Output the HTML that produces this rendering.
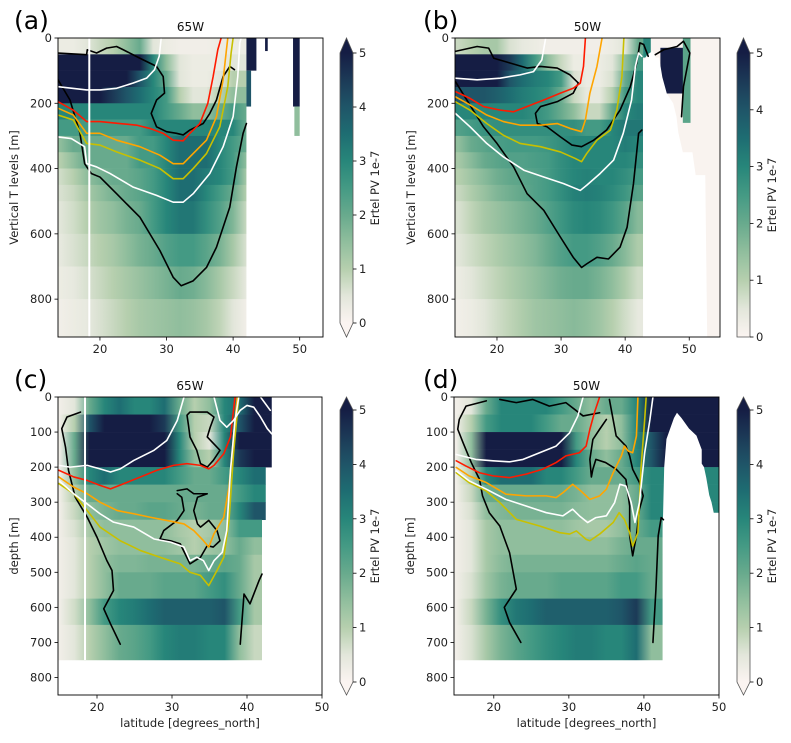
<!DOCTYPE html>
<html><head><meta charset="utf-8">
<style>
body{margin:0;background:#fff;}
svg{display:block;font-family:"DejaVu Sans","Liberation Sans",sans-serif;}
</style></head>
<body>
<svg id="fig" width="791" height="743" viewBox="0 0 791 743" xmlns="http://www.w3.org/2000/svg"></svg>
<script>
// ---------- DATA ----------
const abDepthEdges=[0,50,100,150,200,250,300,350,400,450,500,600,700,800,920];
const cdDepthEdges=[0,50,100,150,200,250,300,350,400,450,500,575,650,750];
const aLats=[14,16,18,20,22,24,26,28,30,32,34,36,38,40,42];
const aPV=[
[0.3,0.3,0.5,0.8,1.0,1.5,2,0.5,0.3,0.2,0.2,0.2,0.3,0.3,0.3],
[6,6,6,6,6,6,5,3,1.5,0.5,0.3,0.3,0.3,0.5,0.5],
[6,6,6,6,6,5,4,3,2,0.5,0.3,0.3,0.5,1,1],
[5,5,5,5,4.5,4,3.5,3,2.5,1,0.5,0.5,1,1.5,1.5],
[3,3,3,3,3,3,3,3,2.5,2,1.5,1.5,2,2.5,2],
[2.5,2.5,2.5,2.5,2.5,2.5,2.5,3,3,3,3,3,3,3,2],
[1.5,2,2,2,2,2,2.5,2.5,3,3.5,3.5,3.5,3,2.5,2],
[1,1.5,2,2,2,2,2.5,2.5,3,3.5,3.5,3.5,3,2.5,1.5],
[0.7,1,1.5,1.8,2,2,2.2,2.5,3,3.5,3.5,3.2,3,2.5,1.2],
[0.6,0.8,1.2,1.5,1.8,2,2.2,2.5,3,3.5,3.5,3,2.5,2,1],
[0.5,0.7,1,1.3,1.5,1.8,2,2.5,3,3.3,3.3,2.8,2.3,1.7,0.8],
[0.4,0.6,0.8,1,1.2,1.5,1.8,2,2.3,2.5,2.5,2.2,1.8,1.2,0.6],
[0.3,0.4,0.6,0.8,1,1.2,1.4,1.6,1.8,2,1.9,1.6,1.2,0.8,0.4],
[0.2,0.3,0.4,0.6,0.8,1,1.2,1.3,1.4,1.5,1.4,1.2,0.9,0.5,0.2]];
const aEast=[42,42,42,42,42,42,42,42,42,42,42,42,42,42];
const aPatches=[[42,43.5,0,100,6],[42,42.7,100,210,4],[44.8,45.2,0,40,6],[49,50,0,210,6],[49.2,50,210,300,1.5]];
const aBlack1=[[13.7,46],[18,51],[18.1,36],[19.5,46],[21,31],[22.5,26],[23.5,36],[26,62],[28.5,87],[29.5,118],[29.7,169],[28.5,190],[27.7,231],[28.5,272],[30,287],[31.5,292],[32.5,297],[33.5,282],[35.5,262],[36.5,231],[37.5,190],[38.5,118],[39.5,87],[40.2,97]];
const aBlack2=[[13.7,128],[15.5,190],[17,292],[17.7,385],[18.7,415],[20,426],[22.5,477],[26,549],[29,651],[31,733],[32.2,759],[34,744],[36,703],[37.5,641],[39.5,518],[40.5,395],[41.5,292],[42,262]];
const aRed=[[13.7,195],[16,221],[18,256],[20,256],[23,262],[25.5,267],[27.5,277],[29.5,292],[31,313],[32.5,315],[33.5,292],[35,262],[36.2,200],[37,118],[37.7,36],[38.2,0]];
const aOrange=[[13.7,215],[16,236],[18,292],[20,292],[22.5,313],[26,333],[29,359],[31,385],[32.5,385],[34,354],[36,313],[37.5,241],[38.5,128],[39,36],[39.2,0]];
const aYellow=[[13.7,236],[16,251],[18,323],[20,328],[22.5,349],[26,374],[29,400],[31,431],[32.5,431],[34,400],[36,354],[38,272],[39.2,149],[39.7,46],[40,0]];
const aWhite1=[[13.7,149],[18,159],[20,159],[22.5,154],[25,138],[27,123],[28.2,97],[28.9,56],[29.2,0]];
const aWhite2=[[13.7,303],[15.7,308],[17.7,333],[18,385],[19.5,395],[21.5,415],[25,457],[28.5,482],[31,503],[32.5,503],[34,477],[36.5,415],[38.5,333],[40,241],[40.7,118],[41,15],[41.2,0]];

const bLats=[14,16,18,20,22,24,26,28,30,32,34,36,38,40,42];
const bPV=[
[0.8,1,1.2,1.2,0.6,0.4,0.3,0.2,0.2,0.2,0.2,0.2,0.3,0.5,2],
[6,6,6,6,4.5,3.5,2.5,1.5,0.8,0.3,0.3,0.3,0.5,1.5,2.5],
[6,6,5.5,5,4,3.5,3.2,3,2.5,0.6,0.3,0.3,0.6,2,3],
[4,4,4,3.8,3.5,3.2,3,2.8,2,0.8,0.4,0.4,1,2.5,3],
[3,3,3,3,3,3,2.8,2.5,2,1.5,0.8,0.8,2,3,3.2],
[2.3,2.5,2.7,2.8,2.8,2.8,2.8,2.8,2.8,2.8,2.5,2.5,3,3.3,3.3],
[1.5,2,2.2,2.4,2.5,2.5,2.5,2.6,2.8,3,3,3,3,3.2,3],
[1.2,1.6,2,2.2,2.3,2.3,2.4,2.5,2.8,3,3,3,3,3,2.8],
[1,1.3,1.6,1.9,2.1,2.2,2.3,2.5,2.8,3,3.1,3,3,2.8,2.5],
[0.8,1.1,1.4,1.7,1.9,2.1,2.3,2.5,2.8,3.1,3.2,3.1,2.9,2.6,2.2],
[0.6,0.9,1.2,1.4,1.6,1.8,2,2.3,2.6,2.9,3,2.9,2.6,2.2,1.6],
[0.5,0.7,0.9,1.1,1.3,1.5,1.7,2,2.3,2.5,2.5,2.3,2,1.6,1.1],
[0.3,0.5,0.7,0.9,1.1,1.3,1.5,1.7,1.9,2,2,1.8,1.5,1.1,0.7],
[0.2,0.3,0.5,0.7,0.9,1.1,1.3,1.4,1.5,1.6,1.5,1.3,1,0.7,0.4]];
const bEast=[42.8,42.8,42.8,42.8,42.8,42.8,42.8,42.8,42.8,42.8,42.8,42.8,42.8,42.8];
const bPatches=[[42.8,54.8,0,916,0.05],[42.8,44,0,60,3],[45.5,49.5,30,170,5.5],[49,50.2,0,260,2.2]];
const bMask=[[42.8,916],[42.8,70],[43.5,50],[44.3,40],[44.8,60],[45.3,60],[45.8,120],[46.5,170],[47.5,200],[48,240],[48.3,290],[49,350],[50.5,350],[51,420],[52.5,420],[52.8,916]];
const bBlack1=[[13.5,41],[16.9,26],[18.7,31],[19.5,62],[22.1,77],[24.7,92],[26.8,87],[29.4,92],[31.4,113],[32.7,138],[31.9,169],[29.4,195],[26.8,210],[26,231],[26.3,262],[27.8,272],[29.9,303],[31.7,328],[33.2,333],[35.1,313],[37.1,282],[39.2,221],[40.8,149],[41.8,77],[42.1,41],[42.3,15],[42.9,20],[43.6,56]];
const bBlack2=[[13.5,133],[15.3,190],[17.9,272],[20,323],[22.6,395],[24.7,477],[27.3,528],[29.9,610],[31.9,672],[33.2,703],[34,692],[35.6,672],[37.4,677],[39.2,641],[40.3,580],[41.3,446],[42.1,292],[42.6,282]];
const bBlack3=[[44.7,51],[46,36],[48.1,26],[49.1,10],[50.1,46],[49.1,149],[48.8,241]];
const bRed=[[13.5,164],[15.8,185],[17.9,210],[20.5,221],[22.6,226],[24.7,210],[27.3,190],[29.9,169],[31.9,154],[33,138],[33.5,87],[33.8,0]];
const bOrange=[[13.5,180],[15.8,205],[18.4,236],[21,256],[23.6,267],[26.8,267],[29.4,262],[31.4,277],[33.2,287],[33.8,251],[34.5,169],[35.6,87],[36.4,0]];
const bYellow=[[13.5,195],[15.8,221],[18.4,262],[21,298],[23.6,323],[26.8,333],[29.9,349],[32.2,369],[33.2,379],[34,354],[35.6,313],[37.7,282],[38.7,221],[39.5,118],[39.8,0]];
const bWhite1=[[13.5,123],[16.9,128],[20.5,123],[23.6,113],[25.7,103],[27,67],[27.6,0]];
const bWhite2=[[13.5,231],[15.8,272],[18.4,323],[21,364],[24.2,405],[27.3,426],[30.4,446],[33,467],[34,451],[36.1,415],[38.2,374],[39.7,292],[41,190],[41.6,87],[42.1,46],[42.6,56]];

const cLats=[15,17,19,21,23,25,27,29,31,33,35,37,39,41,43];
const cPV=[
[0.2,0.5,2,3,3.5,3,3,3.5,2,1,1.5,3,3.5,5,6],
[0.2,1,4,5,5,5,5,4.5,2.5,1,0.8,3,4,6,6],
[0.2,2,6,6,6,6,6,6,3,1,0.5,3,5,6,6],
[0.2,2,6,6,6,6,6,5,3,1.5,1,3,4.5,6,6],
[0.2,1.5,3,3.5,3,3,3,3,2.5,2,2,2.5,3,3.5],
[0.2,1,2,2,2,2,2,2,2,2,2,2,2.5,3],
[0.2,0.8,1.5,1.8,2,2,2.2,2.2,2,1.8,2,2,3,4],
[0.2,0.6,1.2,1.5,1.5,1.5,1.5,1.5,1.2,1,1.2,1.5,2.5,2.5],
[0.2,0.5,1,1.3,1.5,1.5,1.5,1.5,1.3,1,1.3,1.5,2,1.5],
[0.2,0.5,1,1.5,1.7,1.7,1.8,1.8,1.8,1.8,2,2.2,2,1.2],
[0.2,0.5,1,1.5,2,2,2,2.2,2.2,2.2,2.5,2.8,2,1.2],
[0.2,0.7,1.5,2.5,3,3.2,3.5,3.8,3.8,3.8,3.8,4,2.5,1.2],
[0.2,0.5,1,1.5,2,2.2,2.5,3,3.2,3.2,3,3,1.5,0.8]];
const cEast=[43.3,43.3,43.3,43.3,42.5,42.5,42.5,42,42,42,42,42,42];
const cPatches=[];
const cBlack1=[[17.8,43],[16,57],[15.3,90],[15.8,143],[16.2,209],[17.1,286],[18.7,343],[20,400],[21.3,466],[22,495],[22.2,552],[20.9,604],[21.8,647],[23.1,705]];
const cBlack2=[[39.1,705],[39.6,562],[40.4,590],[41.6,524],[42,505]];
const cBlack3=[[32,52],[32.4,43],[34.7,43],[35.6,57],[35.1,86],[34.7,114],[36.4,152],[35.5,181],[34.7,200],[33.8,190],[33.3,152],[32.4,114],[32.2,81],[32,52]];
const cBlack4=[[30.7,267],[32,262],[32.9,276],[34.7,276],[33.4,286],[32.9,324],[33.4,362],[33.8,371],[34.9,352],[36,381],[36.4,410],[35.5,428],[34.7,424],[33.8,457],[32.4,476],[31.1,419],[29.8,410],[28.4,405],[28.9,381],[30.7,352],[31.6,324],[31.3,286],[30.7,276]];
const cRed=[[14.9,209],[16.9,228],[18.7,238],[20.4,252],[21.8,262],[23.6,247],[25.8,228],[28,209],[30.2,195],[32,190],[33.8,195],[34.9,205],[35.6,195],[36.9,162],[37.8,114],[38.2,38],[38.4,0]];
const cOrange=[[14.9,228],[16.9,257],[18.7,276],[20.4,300],[22.7,324],[24.9,333],[27.1,343],[29.3,352],[31.6,362],[32.9,381],[34.2,410],[34.9,428],[35.6,390],[36.9,343],[37.6,257],[38.2,114],[38.7,0]];
const cYellow=[[14.9,247],[16.9,276],[18.7,324],[20.4,371],[23.1,410],[25.8,438],[28.4,457],[31.1,476],[32.4,500],[33.8,509],[34.9,538],[36,495],[36.9,457],[37.6,352],[38.2,162],[38.9,0]];
const cWhite1=[[14.9,195],[16.4,200],[18.7,195],[20.4,205],[21.8,214],[23.1,205],[24.9,181],[27.6,152],[29.3,124],[30.7,67],[31.6,0]];
const cWhite2=[[14.9,238],[16.9,276],[18.7,305],[20.4,333],[22.2,357],[24.9,371],[27.6,405],[29.8,414],[31.6,428],[32.4,467],[33.3,457],[34.2,467],[34.9,495],[35.6,467],[36.7,443],[37.3,381],[37.8,209],[38.4,67],[38.9,0]];
const cWhite3=[[35.6,0],[36.4,67],[37.3,86],[38.2,67],[39.1,38],[40,24],[40.9,29],[41.8,57],[42.7,90],[43.3,105]];
const cWhite4=[[41.8,0],[43.1,38]];

const dLats=[15,17,19,21,23,25,27,29,31,33,35,37,39,41,43,45,47,49];
const dPV=[
[0.2,0.5,2,3,3,3,3,2.5,2,1.5,2,2,3,5,6,6,6,6],
[0.2,1,2.5,3,3,3,2.5,2,2,1.5,1,1.5,3,5,6,6,6,6],
[0.2,1.5,6,6,6,6,6,6,2.5,1.5,1,1.5,3,4,6,6,6,6],
[0.2,1.5,6,6,6,6,6,5,3,2,1.5,2,3,4,5,6,6,6],
[0.2,1,3,3.5,3.5,3.5,3,3,2.5,2,2,2,2.5,3,3,3,3,3],
[0.2,0.8,2,2,2,2,2,2,1.8,1.5,1.5,1.5,2,3,3,3,3,3],
[0.2,0.6,1.5,1.7,1.8,1.8,1.8,1.8,1.6,1.5,1.5,1.5,2,3,3,3,3,3],
[0.2,0.5,1.2,1.5,1.5,1.5,1.5,1.5,1.3,1.2,1.2,1.5,2,2.5],
[0.2,0.5,1.2,1.5,1.5,1.5,1.5,1.5,1.5,1.5,1.5,1.8,2,2],
[0.2,0.5,1.2,1.6,1.8,1.8,1.8,1.8,1.8,1.8,1.8,2,2.2,2],
[0.2,0.6,1.3,1.8,2,2,2,2.2,2.2,2.2,2.2,2.5,2.5,2],
[0.2,0.8,1.8,2.8,3.3,3.5,3.8,3.8,3.8,3.8,3.8,4,4.5,2.5],
[0.2,0.6,1.2,1.8,2.2,2.5,2.8,3,3.2,3.2,3,3,3.5,1.5]];
const dEast=[50,50,50,50,50,50,50,42.5,42.5,42.5,42.5,42.5,42.5];
const dPatches=[];
const dMask=[[42.5,850],[42.5,380],[42.7,200],[43,120],[43.5,90],[44,60],[44.4,45],[45,60],[46,90],[47,110],[47.7,150],[47.7,190],[48,200],[48.3,230],[48.7,280],[49,300],[49.3,330],[50,330],[50,850]];
const dBlack1=[[19,11],[16.3,26],[15.4,64],[15.2,92],[15.9,130],[17,187],[18.1,235],[18.5,282],[19.4,330],[20.8,368],[22.1,444],[23,548],[21.4,600],[22.1,643],[23.6,700]];
const dBlack2=[[41.2,700],[41.6,548],[41.9,396],[42.3,344],[42.6,350]];
const dBlack3=[[35.4,7],[36.3,111],[37.6,140],[38.1,168],[38.5,206],[39.4,244],[39.9,282],[39.4,320],[39,396],[38.5,453],[38.1,396],[38.1,311],[37.6,235],[36.3,206],[34.9,187],[33.6,178],[33.2,206],[33,228],[32.8,178],[33.2,121],[34.1,92],[35,64]];
const dBlack4=[[20.8,7],[23,16],[25.2,7],[27.4,26],[29.6,16],[31.9,54],[34.1,45]];
const dRed=[[15,182],[16.3,197],[18.1,216],[19.9,225],[22.1,230],[24.3,220],[26.5,206],[28.3,187],[29.6,168],[31.4,159],[32.3,140],[32.8,92],[33.4,45],[34.1,0]];
const dOrange=[[15,201],[16.7,225],[19,244],[21.6,277],[24.3,282],[27,282],[28.3,287],[29.2,273],[30.5,249],[31.6,268],[32.8,292],[34.1,282],[35,263],[35.9,216],[37,168],[37.4,140],[37.9,154],[38.5,159],[39,111],[39.2,0]];
const dYellow=[[15,216],[16.7,244],[19,268],[20.8,301],[23,349],[26.1,368],[28.8,387],[30.1,391],[31,382],[32.3,406],[32.8,410],[34.1,391],[35.9,358],[36.7,330],[37.4,349],[38.1,387],[38.5,425],[39.2,387],[39.6,206],[40.1,64],[40.3,0]];
const dWhite1=[[15,164],[17.6,178],[19.9,182],[22.1,185],[23.9,178],[26.1,159],[28.3,140],[30.1,102],[31.2,54],[31.9,0]];
const dWhite2=[[15,211],[16.7,239],[19,263],[21.6,292],[24.3,311],[27,330],[29.2,339],[30.5,320],[31.4,339],[32.5,358],[33.6,344],[35,339],[36.1,301],[36.8,249],[37.6,254],[38.3,301],[38.8,358],[39.4,301],[40.1,159],[40.8,64],[41.2,0]];

const cbTicks=[0,1,2,3,4,5];
const abXTicks=[20,30,40,50];
const abYTicks=[0,200,400,600,800];
const cdXTicks=[20,30,40,50];
const cdYTicks=[0,100,200,300,400,500,600,700,800];

// ---------- RENDER ----------
const NS='http://www.w3.org/2000/svg';
const svg=document.getElementById('fig');
const defs=document.createElementNS(NS,'defs');svg.appendChild(defs);
const cmapStops=[[0,'#fbf4f1'],[0.5,'#e2e6da'],[1,'#b6cfae'],[1.5,'#90be9d'],[2,'#68aa8d'],[2.5,'#449a84'],[3,'#27867a'],[3.5,'#1e6d72'],[4,'#1f5568'],[4.5,'#1c3a57'],[5,'#151d44']];
function hex2rgb(h){return [1,3,5].map(i=>parseInt(h.substr(i,2),16));}
function cmap(v){
  if(v<=0)return cmapStops[0][1];
  if(v>=5)return cmapStops[cmapStops.length-1][1];
  for(let i=1;i<cmapStops.length;i++){
    if(v<=cmapStops[i][0]){
      const [v0,c0]=cmapStops[i-1],[v1,c1]=cmapStops[i];
      const t=(v-v0)/(v1-v0),a=hex2rgb(c0),b=hex2rgb(c1);
      return 'rgb('+a.map((x,k)=>Math.round(x+(b[k]-x)*t)).join(',')+')';
    }
  }
}
function el(tag,attrs,parent){const e=document.createElementNS(NS,tag);for(const k in attrs)e.setAttribute(k,attrs[k]);(parent||svg).appendChild(e);return e;}
let gid=0;

function drawPanel(p){
  const g=el('g',{});
  
  
  const W=p.x1-p.x0,H=p.y1-p.y0;
  const sx=l=>p.x0+(l-p.lmin)/(p.lmax-p.lmin)*W;
  const sy=d=>p.y0+d/p.dmax*H;
  const cp=el('clipPath',{id:'clip'+p.id},defs);
  el('rect',{x:p.x0,y:p.y0,width:W,height:H},cp);
  const plot=el('g',{'clip-path':'url(#clip'+p.id+')'},g);
  
  
  p.pv.forEach((row,r)=>{
    const id='gr'+(gid++);
    const x0=sx(p.lats[0]-1),x1=sx(p.east[r]);
    const lg=el('linearGradient',{id:id,gradientUnits:'userSpaceOnUse',x1:x0,x2:x1,y1:0,y2:0},defs);
    row.forEach((v,i)=>{const off=(sx(p.lats[i])-x0)/(x1-x0);if(off<=1)el('stop',{offset:Math.max(0,off),'stop-color':cmap(v)},lg);});
    const y0=sy(p.depths[r]),y1=sy(Math.min(p.depths[r+1],p.dmax));
    const rc=el('rect',{x:x0,y:y0,width:x1-x0,height:y1-y0+0.3,fill:'url(#'+id+')'},plot);
    
    
  });
  (p.patches||[]).forEach(pt=>{
    const rc=el('rect',{x:sx(pt[0]),y:sy(pt[2]),width:sx(pt[1])-sx(pt[0]),height:sy(pt[3])-sy(pt[2]),fill:cmap(pt[4])},plot);
    
    
  });
  if(p.mask){
    const m=el('polygon',{points:p.mask.map(q=>sx(q[0])+','+sy(q[1])).join(' '),fill:'#fff'},plot);
    
    
  }
  p.lines.forEach(ln=>{
    const pl=el('polyline',{points:ln[0].map(q=>sx(q[0])+','+sy(q[1])).join(' '),fill:'none',stroke:ln[1],'stroke-width':1.6,'stroke-linejoin':'round','stroke-linecap':'round'},plot);
    
    
  });
  if(p.vline){
    const vl=el('line',{x1:sx(p.vline),x2:sx(p.vline),y1:p.y0,y2:sy(p.vlineEnd),stroke:'#fff','stroke-width':2},plot);
    
    
  }
  const fr=el('rect',{x:p.x0,y:p.y0,width:W,height:H,fill:'none',stroke:'#000','stroke-width':0.9},g);
  
  
  p.xt.forEach(t=>{
    const x=sx(t);
    el('line',{x1:x,x2:x,y1:p.y1,y2:p.y1+3.5,stroke:'#000','stroke-width':0.8},g);
    const tx=el('text',{x:x,y:p.y1+16,'font-size':11.5,'text-anchor':'middle',fill:'#222'},g);
    tx.textContent=t;
    
    
  });
  p.yt.forEach(t=>{
    const y=sy(t);
    el('line',{x1:p.x0-3.5,x2:p.x0,y1:y,y2:y,stroke:'#000','stroke-width':0.8},g);
    const tx=el('text',{x:p.x0-6,y:y+4,'font-size':11.5,'text-anchor':'end',fill:'#222'},g);
    tx.textContent=t;
    
    
  });
  const yl=el('text',{transform:'translate('+(p.x0-40)+','+(p.y0+H/2)+') rotate(-90)','font-size':11.5,'text-anchor':'middle',fill:'#222'},g);
  yl.textContent=p.ylabel;
  
  
  if(p.xlabel){
    const xl=el('text',{x:p.x0+W/2,y:p.y1+32,'font-size':11.5,'text-anchor':'middle',fill:'#222'},g);
    xl.textContent=p.xlabel;
    
    
  }
  const tt=el('text',{x:p.x0+W/2,y:p.y0-7,'font-size':12,'text-anchor':'middle',fill:'#111'},g);
  tt.textContent=p.title;
  
  
  const pl=el('text',{x:p.labelX,y:p.y0-9,'font-size':25,fill:'#000'},g);
  pl.textContent=p.label;
  
  
  const cb=el('g',{},g);
  
  
  const cid='cb'+p.id;
  const lg=el('linearGradient',{id:cid,x1:0,x2:0,y1:1,y2:0},defs);
  for(let v=0;v<=5.001;v+=0.25)el('stop',{offset:v/5,'stop-color':cmap(v)},lg);
  const cx0=p.cbx,cx1=p.cbx+13,b0=p.cbTop,b1=p.cbBot;
  el('rect',{x:cx0,y:b0,width:13,height:b1-b0,fill:'url(#'+cid+')'},cb);
  let outline='M'+cx0+','+b1+' L'+cx0+','+b0+' L'+(cx0+6.5)+','+p.tipTop+' L'+cx1+','+b0+' L'+cx1+','+b1;
  el('polygon',{points:cx0+','+b0+' '+(cx0+6.5)+','+p.tipTop+' '+cx1+','+b0,fill:cmap(6)},cb);
  if(p.tipBot){
    el('polygon',{points:cx0+','+b1+' '+(cx0+6.5)+','+p.tipBot+' '+cx1+','+b1,fill:cmap(0)},cb);
    outline+=' L'+(cx0+6.5)+','+p.tipBot+' Z';
  } else outline+=' Z';
  el('path',{d:outline,fill:'none',stroke:'#555','stroke-width':0.8},cb);
  cbTicks.forEach(t=>{
    const y=b1-(t/5)*(b1-b0);
    el('line',{x1:cx1,x2:cx1+3.5,y1:y,y2:y,stroke:'#000','stroke-width':0.8},cb);
    const tx=el('text',{x:cx1+6,y:y+4,'font-size':11.5,fill:'#222'},cb);
    tx.textContent=t;
    
    
  });
  const cl=el('text',{transform:'translate('+(cx1+26)+','+((b0+b1)/2)+') rotate(-90)','font-size':11.5,'text-anchor':'middle',fill:'#222'},cb);
  cl.textContent='Ertel PV 1e-7';
  
  
}

const K='#000',Wt='#fff',R='#ff1a00',O='#ffa500',Y='#c8c000';
drawPanel({id:'a',label:'(a)',labelX:14,title:'65W',ylabel:'Vertical T levels [m]',x0:58,x1:323,y0:38,y1:337,lmin:13.7,lmax:53.5,dmax:916,
  lats:aLats,depths:abDepthEdges,pv:aPV,east:aEast,patches:aPatches,vline:18.4,vlineEnd:916,xt:abXTicks,yt:abYTicks,
  lines:[[aBlack1,K,'black'],[aBlack2,K,'black'],[aRed,R,'red'],[aOrange,O,'orange'],[aYellow,Y,'yellow'],[aWhite1,Wt,'white'],[aWhite2,Wt,'white']],
  cbx:340,cbTop:53,cbBot:323,tipTop:38,tipBot:337});
drawPanel({id:'b',label:'(b)',labelX:423,title:'50W',ylabel:'Vertical T levels [m]',x0:455,x1:720,y0:38,y1:337,lmin:13.45,lmax:54.8,dmax:916,
  lats:bLats,depths:abDepthEdges,pv:bPV,east:bEast,patches:bPatches,mask:bMask,xt:abXTicks,yt:abYTicks,
  lines:[[bBlack1,K,'black'],[bBlack2,K,'black'],[bBlack3,K,'black'],[bRed,R,'red'],[bOrange,O,'orange'],[bYellow,Y,'yellow'],[bWhite1,Wt,'white'],[bWhite2,Wt,'white']],
  cbx:737,cbTop:53,cbBot:337,tipTop:38,tipBot:null});
drawPanel({id:'c',label:'(c)',labelX:14,title:'65W',ylabel:'depth [m]',xlabel:'latitude [degrees_north]',x0:58,x1:322,y0:397,y1:695,lmin:14.8,lmax:50,dmax:850,
  lats:cLats,depths:cdDepthEdges,pv:cPV,east:cEast,patches:cPatches,vline:18.4,vlineEnd:750,xt:cdXTicks,yt:cdYTicks,
  lines:[[cBlack1,K,'black'],[cBlack2,K,'black'],[cBlack3,K,'black'],[cBlack4,K,'black'],[cRed,R,'red'],[cOrange,O,'orange'],[cYellow,Y,'yellow'],[cWhite1,Wt,'white'],[cWhite2,Wt,'white'],[cWhite3,Wt,'white'],[cWhite4,Wt,'white']],
  cbx:340,cbTop:410,cbBot:682,tipTop:397,tipBot:695});
drawPanel({id:'d',label:'(d)',labelX:423,title:'50W',ylabel:'depth [m]',xlabel:'latitude [degrees_north]',x0:454,x1:719,y0:397,y1:695,lmin:14.7,lmax:50,dmax:850,
  lats:dLats,depths:cdDepthEdges,pv:dPV,east:dEast,patches:dPatches,mask:dMask,xt:cdXTicks,yt:cdYTicks,
  lines:[[dBlack1,K,'black'],[dBlack2,K,'black'],[dBlack3,K,'black'],[dBlack4,K,'black'],[dRed,R,'red'],[dOrange,O,'orange'],[dYellow,Y,'yellow'],[dWhite1,Wt,'white'],[dWhite2,Wt,'white']],
  cbx:737,cbTop:410,cbBot:682,tipTop:397,tipBot:695});
</script>
</body></html>
